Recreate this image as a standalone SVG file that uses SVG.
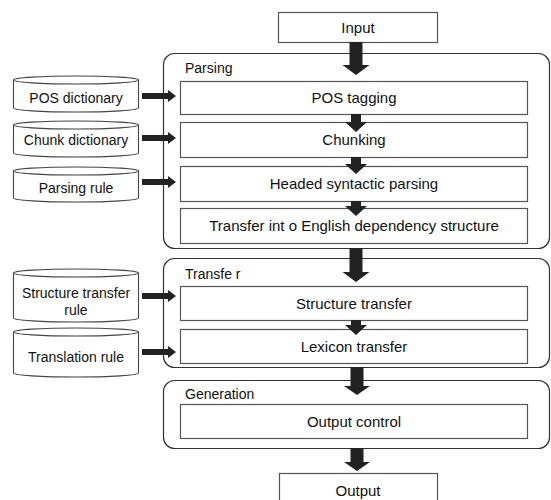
<svg xmlns="http://www.w3.org/2000/svg" width="551" height="500" viewBox="0 0 551 500">
<style>
  .box { fill: #fff; stroke: #555; stroke-width: 1.2; }
  .grp { fill: #fff; stroke: #333; stroke-width: 1.2; }
  .cyl { fill: #fff; stroke: #444; stroke-width: 1.1; }
  .t { font-family: "Liberation Sans", Arial, sans-serif; font-size: 14px; fill: #111; }
  .b { font-size: 15px; }
  .c { text-anchor: middle; }
  .arr { fill: #222; stroke: none; }
</style>
<rect width="551" height="500" fill="#fff"/>

<g id="input"><rect class="box" x="278.5" y="12.5" width="159" height="30"/><text class="t b c" x="358" y="32.5">Input</text></g>

<g id="parsing"><rect class="grp" x="163.5" y="53.5" width="386" height="195" rx="11"/><text class="t" x="185" y="73">Parsing</text></g>
<g id="pos-tagging"><rect class="box" x="180.5" y="81.5" width="347" height="33"/><text class="t b c" x="354" y="103">POS tagging</text></g>
<g id="chunking"><rect class="box" x="180.5" y="122.5" width="347" height="35"/><text class="t b c" x="354" y="145">Chunking</text></g>
<g id="headed"><rect class="box" x="180.5" y="166.5" width="347" height="35"/><text class="t b c" x="354" y="189">Headed syntactic parsing</text></g>
<g id="transfer-into"><rect class="box" x="180.5" y="208.5" width="347" height="35"/><text class="t b c" x="354" y="231">Transfer int o English dependency structure</text></g>

<g id="transfer"><rect class="grp" x="163.5" y="258.5" width="386" height="109" rx="11"/><text class="t" x="185" y="279">Transfe r</text></g>
<g id="structure-transfer"><rect class="box" x="180.5" y="286.5" width="347" height="34"/><text class="t b c" x="354" y="308.5">Structure transfer</text></g>
<g id="lexicon-transfer"><rect class="box" x="180.5" y="329.5" width="347" height="34"/><text class="t b c" x="354" y="351.5">Lexicon transfer</text></g>

<g id="generation"><rect class="grp" x="163.5" y="380.5" width="386" height="68" rx="11"/><text class="t" x="185" y="399">Generation</text></g>
<g id="output-control"><rect class="box" x="180.5" y="404.5" width="347" height="34"/><text class="t b c" x="354" y="426.5">Output control</text></g>

<g id="output"><rect class="box" x="279.5" y="473.5" width="158" height="40"/><text class="t b c" x="358" y="496">Output</text></g>

<g id="pos-dictionary"><path class="cyl" d="M13.5,80 A62.5,4 0 0 1 138.5,80 V108 A62.5,4 0 0 1 13.5,108 Z M13.5,80 A62.5,4 0 0 0 138.5,80"/><text class="t c" x="76" y="103">POS dictionary</text></g>
<g id="chunk-dictionary"><path class="cyl" d="M13.5,125 A62.5,4 0 0 1 138.5,125 V153 A62.5,4 0 0 1 13.5,153 Z M13.5,125 A62.5,4 0 0 0 138.5,125"/><text class="t c" x="76" y="145">Chunk dictionary</text></g>
<g id="parsing-rule"><path class="cyl" d="M13.5,171 A62.5,4 0 0 1 138.5,171 V198 A62.5,4 0 0 1 13.5,198 Z M13.5,171 A62.5,4 0 0 0 138.5,171"/><text class="t c" x="76" y="193">Parsing rule</text></g>
<g id="structure-transfer-rule"><path class="cyl" d="M13.5,273 A62.5,4 0 0 1 138.5,273 V318 A62.5,4 0 0 1 13.5,318 Z M13.5,273 A62.5,4 0 0 0 138.5,273"/><text class="t c" x="76" y="298">Structure transfer</text><text class="t c" x="76" y="315">rule</text></g>
<g id="translation-rule"><path class="cyl" d="M13.5,332 A62.5,4 0 0 1 138.5,332 V373 A62.5,4 0 0 1 13.5,373 Z M13.5,332 A62.5,4 0 0 0 138.5,332"/><text class="t c" x="76" y="362">Translation rule</text></g>

<g id="connectors">
  <path class="arr" d="M349.5,42 H362.5 V65 H369.5 L356,75 L342.5,65 H349.5 Z"/>
  <path class="arr" d="M349.5,248 H362.5 V272 H369.5 L356,282 L342.5,272 H349.5 Z"/>
  <path class="arr" d="M350.5,367 H363.5 V386 H370 L357,395 L344,386 H350.5 Z"/>
  <path class="arr" d="M350.5,448 H363.5 V462 H370 L357,471 L344,462 H350.5 Z"/>
  <path class="arr" d="M351,114 H361 V122 H367 L356,132 L345,122 H351 Z"/>
  <path class="arr" d="M351,157 H361 V164 H367 L356,174 L345,164 H351 Z"/>
  <path class="arr" d="M351,201 H361 V206 H367 L356,216 L345,206 H351 Z"/>
  <path class="arr" d="M351,320 H361 V325 H367 L356,335 L345,325 H351 Z"/>
  <path class="arr" d="M142,93 H168 V90 L176,96 L168,102 V99 H142 Z"/>
  <path class="arr" d="M142,135 H168 V132 L176,138 L168,144 V141 H142 Z"/>
  <path class="arr" d="M142,179 H168 V176 L176,182 L168,188 V185 H142 Z"/>
  <path class="arr" d="M142,293 H168 V290 L176,296 L168,302 V299 H142 Z"/>
  <path class="arr" d="M142,349 H168 V346 L176,352 L168,358 V355 H142 Z"/>
</g>
</svg>
